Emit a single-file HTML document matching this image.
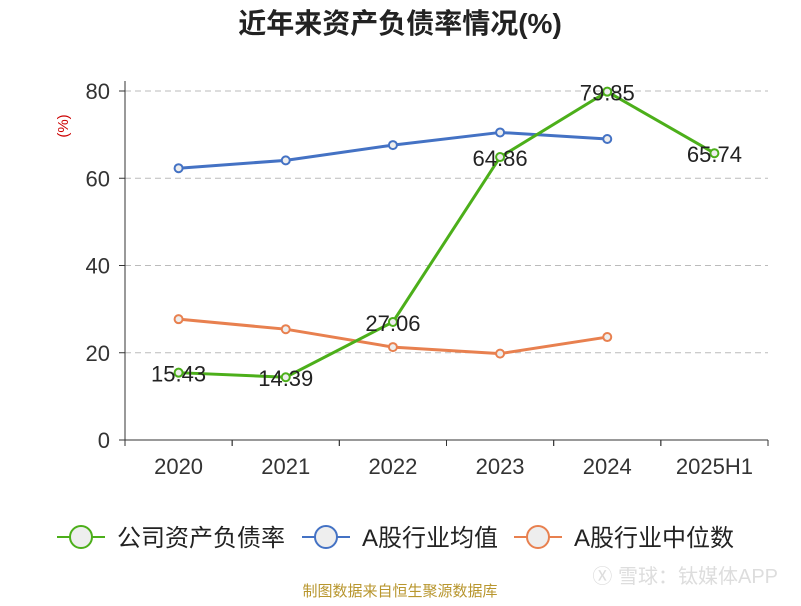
<!DOCTYPE html>
<html><head><meta charset="utf-8"><style>
body{margin:0;background:#fff;width:801px;height:601px;overflow:hidden;font-family:"Liberation Sans","Noto Sans CJK SC",sans-serif;}
</style></head><body>
<svg id="c" width="801" height="601" font-family="Liberation Sans, Noto Sans CJK SC, sans-serif"></svg>
<script>
const categories=["2020","2021","2022","2023","2024","2025H1"];
const companyVals=[15.43,14.39,27.06,64.86,79.85,65.74];
const avgVals=[62.3,64.1,67.6,70.5,69.0];
const medVals=[27.7,25.4,21.3,19.8,23.6];
const yTicks=[0,20,40,60,80];
const svg=document.getElementById('c');const NS='http://www.w3.org/2000/svg';
const L=125,R=768,T=91,B=440,yMax=80;
const bw=(R-L)/categories.length;
const x=i=>L+bw*(i+0.5);const y=v=>B-(v/yMax)*(B-T);
function el(t,a,p){const e=document.createElementNS(NS,t);for(const k in a)e.setAttribute(k,a[k]);(p||svg).appendChild(e);return e;}
let t=el('text',{x:400,y:33,'text-anchor':'middle','font-size':28,'font-weight':'bold',fill:'#222'});t.textContent='近年来资产负债率情况(%)';

t=el('text',{x:68,y:126,'text-anchor':'middle','font-size':15,fill:'#c00',transform:'rotate(-90 68 126)'});t.textContent='(%)';

yTicks.forEach(v=>{
 if(v>0){const g=el('line',{x1:L,x2:R,y1:y(v),y2:y(v),stroke:'#bbb','stroke-dasharray':'6,4'});}
 const tk=el('line',{x1:L-6,x2:L,y1:y(v),y2:y(v),stroke:'#333'});
 const l=el('text',{x:L-15,y:y(v)+8,'text-anchor':'end','font-size':22,fill:'#333'});l.textContent=v;
 
});
let a=el('line',{x1:L,x2:L,y1:T-10,y2:B,stroke:'#333'});
a=el('line',{x1:L,x2:R,y1:B,y2:B,stroke:'#333'});
categories.forEach((c,i)=>{
 for(const xx of [L+bw*i,L+bw*(i+1)]){const k=el('line',{x1:xx,x2:xx,y1:B,y2:B+6,stroke:'#333'});}
 const l=el('text',{x:x(i),y:B+34,'text-anchor':'middle','font-size':22,fill:'#333'});l.textContent=c;
 
});
function series(vals,color,name,labels){
 const p=el('polyline',{points:vals.map((v,i)=>x(i)+','+y(v)).join(' '),fill:'none',stroke:color,'stroke-width':3});
 
 vals.forEach((v,i)=>{const c=el('circle',{cx:x(i),cy:y(v),r:4,fill:'#eee',stroke:color,'stroke-width':2});
  
  if(labels){const l=el('text',{x:x(i),y:y(v)+9,'text-anchor':'middle','font-size':22,fill:'#222'});l.textContent=v.toFixed(2);
   }
 });
}
series(avgVals,'#4472c4','industry-average');
series(medVals,'#e8804f','industry-median');
series(companyVals,'#4caf1a','company',true);
const leg=[['公司资产负债率','#4caf1a',57],['A股行业均值','#4472c4',302],['A股行业中位数','#e8804f',514]];
leg.forEach(([n,c,lx])=>{
 const g=el('g',{});
 el('line',{x1:lx,x2:lx+48,y1:537,y2:537,stroke:c,'stroke-width':2},g);
 el('circle',{cx:lx+24,cy:537,r:11,fill:'#eee',stroke:c,'stroke-width':2},g);
 const l=el('text',{x:lx+60,y:546,'font-size':24,fill:'#222'},g);l.textContent=n;
});
t=el('text',{x:400,y:596,'text-anchor':'middle','font-size':15,fill:'#b8962e'});t.textContent='制图数据来自恒生聚源数据库';

t=el('text',{x:778,y:583,'text-anchor':'end','font-size':20,fill:'#ddd'});t.textContent='Ⓧ 雪球：钛媒体APP';

</script>
</body></html>
